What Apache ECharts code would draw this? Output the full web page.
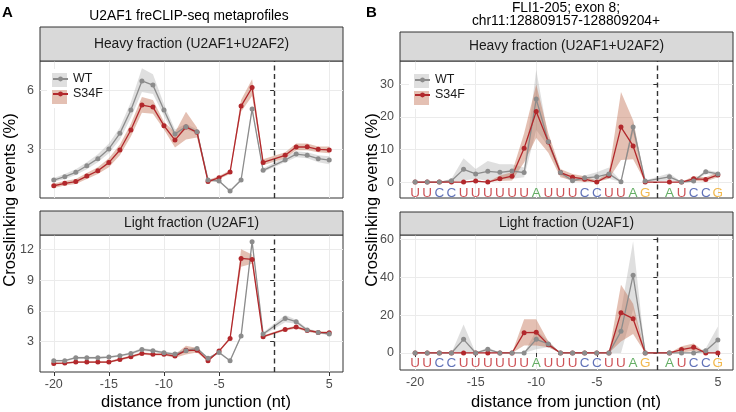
<!DOCTYPE html>
<html>
<head>
<meta charset="utf-8">
<script src="https://cdn.jsdelivr.net/npm/echarts@6/dist/echarts.min.js"></script>
<style>html,body{margin:0;padding:0;background:#fff}#c{width:736px;height:412px}</style>
</head>
<body>
<div id="c"></div>
<script>
// ---------- data ----------
const positions = [-20,-19,-18,-17,-16,-15,-14,-13,-12,-11,-10,-9,-8,-7,-6,-5,-4,-3,-2,-1,1,2,3,4,5];
const xTickLabels = [-20,-15,-10,-5,5];
const letters = ['U','U','C','C','U','U','U','U','U','U','A','U','U','U','C','C','U','U','A','G','A','U','C','C','G'];

// Panel A, heavy fraction
const aHeavyWT     = [1.45,1.62,1.84,2.17,2.53,3.02,3.81,4.99,6.46,6.25,4.99,3.78,4.15,3.89,1.45,1.40,0.89,1.45,5.04,1.94,2.46,2.76,2.70,2.53,2.46];
const aHeavyWTlo   = [1.35,1.50,1.70,2.00,2.35,2.80,3.50,4.60,5.90,5.80,4.70,3.60,4.00,3.80,1.40,1.35,0.85,1.40,4.90,1.85,2.35,2.60,2.55,2.35,2.25];
const aHeavyWThi   = [1.55,1.75,2.00,2.35,2.75,3.30,4.10,5.40,7.10,6.80,5.30,4.00,4.30,4.00,1.50,1.45,0.95,1.50,5.20,2.05,2.60,2.90,2.85,2.70,2.65];
const aHeavyS34F   = [1.16,1.28,1.37,1.65,1.92,2.33,2.97,3.98,5.24,5.14,4.20,3.47,4.13,3.86,1.37,1.57,1.85,5.19,6.13,2.34,2.70,3.12,3.13,3.00,2.97];
const aHeavyS34Flo = [1.05,1.17,1.25,1.50,1.75,2.10,2.70,3.65,4.85,4.80,4.00,3.10,3.50,3.60,1.30,1.50,1.75,4.90,5.70,2.20,2.55,2.95,2.95,2.85,2.80];
const aHeavyS34Fhi = [1.27,1.40,1.50,1.80,2.10,2.55,3.25,4.30,5.65,5.50,4.40,3.85,4.90,4.10,1.45,1.65,1.95,5.50,6.55,2.50,2.85,3.30,3.30,3.15,3.15];

// Panel A, light fraction
const aLightWT     = [1.15,1.15,1.44,1.44,1.44,1.50,1.64,1.86,2.25,2.12,1.93,1.80,2.12,2.35,1.38,1.96,1.15,3.55,12.75,3.75,5.27,4.95,4.14,3.91,3.75];
const aLightWTlo   = [1.05,1.05,1.34,1.34,1.34,1.40,1.54,1.74,2.10,2.00,1.82,1.68,1.98,2.20,1.30,1.86,1.07,3.40,12.60,3.60,4.90,4.75,4.00,3.80,3.62];
const aLightWThi   = [1.25,1.25,1.54,1.54,1.54,1.60,1.74,1.98,2.40,2.24,2.04,1.92,2.26,2.50,1.46,2.06,1.23,3.70,12.90,3.90,5.60,5.15,4.30,4.02,3.88];
const aLightS34F   = [0.89,0.92,1.02,1.02,1.02,1.02,1.28,1.54,1.86,1.77,1.77,1.60,2.16,2.16,1.15,2.09,3.32,11.12,11.02,3.49,4.20,4.43,4.10,3.91,3.88];
const aLightS34Flo = [0.80,0.83,0.93,0.93,0.93,0.93,1.18,1.42,1.74,1.66,1.65,1.45,1.75,1.95,1.07,1.98,3.20,10.30,10.60,3.38,4.08,4.30,3.98,3.80,3.75];
const aLightS34Fhi = [0.98,1.01,1.11,1.11,1.11,1.11,1.38,1.66,1.98,1.88,1.89,1.75,2.60,2.40,1.23,2.20,3.45,12.00,11.50,3.60,4.32,4.56,4.22,4.02,4.00];

// Panel B, heavy fraction
const bHeavyWT     = [0,0,0,0.4,3.9,2.5,3.3,3.0,3.4,2.9,25.5,12.4,2.9,0.4,1.3,1.6,2.5,0.1,16.9,0.3,1.6,0,0.3,3.2,2.5];
const bHeavyWTlo   = [0,0,0,0,0.5,1,0.3,1,1,1.5,16,11,2,0,0.5,0.5,1,0,15,0,0.5,0,0,2.5,2];
const bHeavyWThi   = [0,0,0,1,7.3,4,6.5,5.5,5.5,4.5,34.5,13.5,3.5,1,2,3,4.5,0.3,19,0.5,2.7,0,0.5,3.8,3];
const bHeavyS34F   = [0,0,0,0,0,0.3,0,1.0,1.8,10.4,21.7,12.3,2.9,1.5,0.9,0,2.0,16.9,11.1,0,0,0,1.0,0.8,2.2];
const bHeavyS34Flo = [0,0,0,0,0,0,0,0.3,0.5,6,13.5,9,1.5,0.5,0,0,1,6.8,7,0,0,0,0.3,0.2,1.5];
const bHeavyS34Fhi = [0,0,0,0,0,0.6,0,2,3,15,30,15,4,2.5,1.8,0.5,3,27.7,19,0,0,0,1.8,1.5,3];

// Panel B, light fraction
const bLightWT     = [0,0,0,0,7.2,0,1.9,0,0,0,7.2,4.75,0,0,0,0,0,11.4,41,0,0,0,0,1.2,6.9];
const bLightWTlo   = [0,0,0,0,0,0,0,0,0,0,2,3,0,0,0,0,0,0,23,0,0,0,0,0,0];
const bLightWThi   = [0,0,0,0,15,0,3,0,0,0,12,6.5,0,0,0,0,0,22,59,0,0,0,0,2.5,14];
const bLightS34F   = [0,0,0,0,0,0,0,0,0,10.7,10.9,4.4,0,0,0,0,0,21.3,18.1,0,0,1.8,3.0,0,0];
const bLightS34Flo = [0,0,0,0,0,0,0,0,0,4,4,3,0,0,0,0,0,6,10,0,0,0.3,1,0,0];
const bLightS34Fhi = [0,0,0,0,0,0,0,0,0,17.8,17.8,6,0,0,0,0,0,36,26,0,0,3.5,5,0,0];

const yTicksAHeavy = [3,6];
const yTicksALight = [3,6,9,12];
const yTicksBHeavy = [0,10,20,30];
const yTicksBLight = [0,20,40,60];

// ---------- styling ----------
const FONT = 'Liberation Sans, Arial, Helvetica, sans-serif';
const WT_COL = '#8c8c8c';
const MUT_COL = '#b2282c';
const WT_FILL = 'rgba(150,150,150,0.30)';
const MUT_FILL = 'rgba(190,105,75,0.42)';
const letterColor = {U:'#c1272d', C:'#3a4fa6', A:'#3f9a3f', G:'#efa722'};

const grids = [
  {left:40, top:61, width:303, height:137},
  {left:40, top:235, width:303, height:137},
  {left:400, top:61, width:333, height:137},
  {left:400, top:235, width:333, height:135}
];
const yRanges = [[0.54,7.47],[0.05,13.4],[-4.9,37.2],[-9,62.3]];
const yTicks = [yTicksAHeavy, yTicksALight, yTicksBHeavy, yTicksBLight];
const panelData = [
  [aHeavyWT,aHeavyWTlo,aHeavyWThi,aHeavyS34F,aHeavyS34Flo,aHeavyS34Fhi],
  [aLightWT,aLightWTlo,aLightWThi,aLightS34F,aLightS34Flo,aLightS34Fhi],
  [bHeavyWT,bHeavyWTlo,bHeavyWThi,bHeavyS34F,bHeavyS34Flo,bHeavyS34Fhi],
  [bLightWT,bLightWTlo,bLightWThi,bLightS34F,bLightS34Flo,bLightS34Fhi]
];
const letterY = [null, null, -3.3, -5.4];

function ribbon(gi, lo, hi, fill) {
  return {
    type:'custom', xAxisIndex:gi, yAxisIndex:gi, silent:true, z:1,
    data: positions.map((x,i)=>[x, lo[i], hi[i]]),
    encode:{x:0, y:[1,2]},
    renderItem: function(params, api){
      if (params.dataIndexInside !== 0) return null;
      const n = params.dataInsideLength;
      const up = [], dn = [];
      for (let i=0;i<n;i++){
        up.push(api.coord([api.value(0,i), api.value(2,i)]));
        dn.push(api.coord([api.value(0,i), api.value(1,i)]));
      }
      return {type:'polygon', shape:{points: up.concat(dn.reverse())}, style:{fill: fill}};
    }
  };
}
function line(gi, name, vals, col) {
  return {
    type:'line', name:name, xAxisIndex:gi, yAxisIndex:gi, silent:true, z:2,
    data: positions.map((x,i)=>[x, vals[i]]),
    symbol:'circle', symbolSize:5, showSymbol:false,
    itemStyle:{color:col}, lineStyle:{color:col, width:1.3},
    animation:false
  };
}
function points(gi, vals, col) {
  return {
    type:'scatter', name:'pts', xAxisIndex:gi, yAxisIndex:gi, silent:true, z:3,
    data: positions.map((x,i)=>[x, vals[i]]),
    symbol:'circle', symbolSize:5, itemStyle:{color:col, opacity:1}
  };
}

const series = [];
for (let g=0; g<4; g++) {
  const d = panelData[g];
  series.push(ribbon(g, d[1], d[2], WT_FILL));
  series.push(ribbon(g, d[4], d[5], MUT_FILL));
  series.push(line(g, 'WT', d[0], WT_COL));
  series.push(line(g, 'S34F', d[3], MUT_COL));
  series.push(points(g, d[3], MUT_COL));
  const p = points(g, d[0], WT_COL);
  p.markLine = {symbol:'none', silent:true, label:{show:false}, animation:false,
    lineStyle:{type:[5,3.5], color:'#333', width:1.4}, data:[{xAxis:0}]};
  series.push(p);
  if (letterY[g] !== null) {
    series.push({
      type:'scatter', name:'letters', xAxisIndex:g, yAxisIndex:g, silent:true, z:4,
      symbol:'circle', symbolSize:0.1, itemStyle:{color:'rgba(0,0,0,0)'},
      data: positions.map((x,i)=>({value:[x, letterY[g]],
        label:{show:true, position:'inside', formatter:letters[i], color:letterColor[letters[i]],
               fontSize:13.5, fontFamily:FONT}}))
    });
  }
}

const xAxes = grids.map((gr, g)=>({
  gridIndex:g, type:'value', min:-21.25, max:6.25,
  axisLine:{show:false},
  axisTick:{show: g%2===1, length:4, lineStyle:{color:'#333'}, customValues: xTickLabels},
  axisLabel:{show: g%2===1, customValues: xTickLabels, fontSize:12.5, color:'#4d4d4d', fontFamily:FONT, margin:6},
  splitLine:{show:true, lineStyle:{color:'#ebebeb', width:1}}
}));
const yAxes = grids.map((gr, g)=>({
  gridIndex:g, type:'value', min:yRanges[g][0], max:yRanges[g][1],
  axisLine:{show:false},
  axisTick:{show:true, length:4, lineStyle:{color:'#333'}, customValues: yTicks[g]},
  axisLabel:{customValues: yTicks[g], fontSize:12.5, color:'#4d4d4d', fontFamily:FONT, margin:6},
  splitLine:{show:true, lineStyle:{color:'#ebebeb', width:1}}
}));

const strips = [
  {x:40, y:27, w:303, h:34, t:'Heavy fraction (U2AF1+U2AF2)'},
  {x:40, y:211, w:303, h:24, t:'Light fraction (U2AF1)'},
  {x:400, y:32, w:333, h:29, t:'Heavy fraction (U2AF1+U2AF2)'},
  {x:400, y:212, w:333, h:23, t:'Light fraction (U2AF1)'}
];
const graphics = [];
strips.forEach(s=>{
  graphics.push({type:'rect', shape:{x:s.x, y:s.y, width:s.w, height:s.h}, style:{fill:'#d9d9d9', stroke:'#333', lineWidth:1}, z:5});
  graphics.push({type:'text', x:s.x+s.w/2, y:s.y+s.h/2, style:{text:s.t, fontSize:13.8, fontFamily:FONT, fill:'#1a1a1a', textAlign:'center', textVerticalAlign:'middle'}, z:6});
});
// legend backgrounds / keys
[[47,69,48,39,52,73],[409,70,54,39,414,74]].forEach(b=>{
  graphics.push({type:'rect', shape:{x:b[0], y:b[1], width:b[2], height:b[3]}, style:{fill:'#fff'}, z:1, z2:0});
  graphics.push({type:'rect', shape:{x:b[4], y:b[5], width:15, height:14}, style:{fill:WT_FILL}, z:1, z2:1});
  graphics.push({type:'rect', shape:{x:b[4], y:b[5]+17, width:15, height:14}, style:{fill:MUT_FILL}, z:1, z2:1});
});
// titles & labels
graphics.push({type:'text', x:2, y:5, style:{text:'A', fontSize:15, fontWeight:'bold', fontFamily:FONT, fill:'#000'}});
graphics.push({type:'text', x:366, y:5, style:{text:'B', fontSize:15, fontWeight:'bold', fontFamily:FONT, fill:'#000'}});
graphics.push({type:'text', x:189, y:16, style:{text:'U2AF1 freCLIP-seq metaprofiles', fontSize:13.8, fontFamily:FONT, fill:'#000', textAlign:'center', textVerticalAlign:'middle'}});
graphics.push({type:'text', x:566, y:8, style:{text:'FLI1-205; exon 8;', fontSize:13.8, fontFamily:FONT, fill:'#000', textAlign:'center', textVerticalAlign:'middle'}});
graphics.push({type:'text', x:566, y:21, style:{text:'chr11:128809157-128809204+', fontSize:13.8, fontFamily:FONT, fill:'#000', textAlign:'center', textVerticalAlign:'middle'}});
graphics.push({type:'text', x:196, y:402, style:{text:'distance from junction (nt)', fontSize:16.5, fontFamily:FONT, fill:'#000', textAlign:'center', textVerticalAlign:'middle'}});
graphics.push({type:'text', x:566, y:402, style:{text:'distance from junction (nt)', fontSize:16.5, fontFamily:FONT, fill:'#000', textAlign:'center', textVerticalAlign:'middle'}});
graphics.push({type:'text', x:10, y:200, rotation:Math.PI/2, style:{text:'Crosslinking events (%)', fontSize:16.5, fontFamily:FONT, fill:'#000', textAlign:'center', textVerticalAlign:'middle'}});
graphics.push({type:'text', x:372, y:200, rotation:Math.PI/2, style:{text:'Crosslinking events (%)', fontSize:16.5, fontFamily:FONT, fill:'#000', textAlign:'center', textVerticalAlign:'middle'}});

const legendBase = {orient:'vertical', padding:0, itemWidth:15, itemHeight:6, itemGap:2,
  selectedMode:false, data:['WT','S34F'],
  textStyle:{fontSize:12.5, color:'#1a1a1a', fontFamily:FONT}};

const chart = echarts.init(document.getElementById('c'), null, {renderer:'canvas'});
chart.setOption({
  animation:false,
  backgroundColor:'#fff',
  grid: grids.map(g=>Object.assign({show:true, borderColor:'#333', borderWidth:1, backgroundColor:'transparent', containLabel:false}, g)),
  xAxis: xAxes,
  yAxis: yAxes,
  legend: [Object.assign({left:52, top:72.5}, legendBase), Object.assign({left:414, top:73.5}, legendBase)],
  graphic: graphics,
  series: series
});
</script>
</body>
</html>
